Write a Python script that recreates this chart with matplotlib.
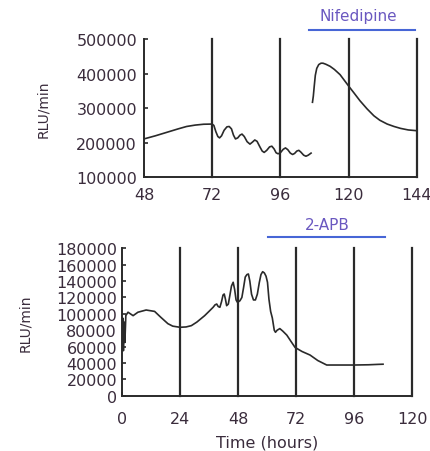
import matplotlib.pyplot as plt
import matplotlib.transforms as mtransforms

plt.rcParams['font.family'] = ['DejaVu Sans']

TXT = '#3a2c3c'
LINE = '#2a2a2a'
BLUE = '#4766d6'
LABEL_BLUE = '#6a58c0'

# Painel superior (Nifedipine)
top_t_pre = [48, 52, 56, 60, 63, 66, 69, 72, 72.6, 73.3, 74, 74.6, 75.3, 76.2, 77.2, 78, 78.8,
             79.5, 80.2, 81, 81.8, 82.5, 83.3, 84.3, 85.3, 86.2, 87, 87.8, 88.8, 89.6, 90.3, 91.2,
             92.2, 93, 93.8, 94.5, 95.2, 96, 97, 97.8, 98.6, 99.5, 100.3, 101, 101.8, 102.5, 103.2,
             104.2, 105, 105.8, 106.8]
top_v_pre = [211000, 220000, 230000, 240000, 247000, 251000, 253500, 254000, 250000, 232000, 218000,
             214000, 220000, 236000, 246000, 247000, 240000, 222000, 211000, 214000, 222000, 225000,
             218000, 203000, 196000, 202000, 208000, 204000, 188000, 176000, 172000, 178000, 188000,
             190000, 182000, 171000, 168000, 171000, 181000, 185000, 180000, 170000, 166000, 169000,
             176000, 178000, 173000, 164000, 161000, 164000, 170000]
top_t_nif = [107.3, 107.6, 107.9, 108.3, 108.8, 109.5, 110.3, 111, 112, 113.5, 115, 117, 120.2, 122,
             124, 126.5, 128.9, 131, 133.6, 136, 138.3, 141, 144]
top_v_nif = [317000, 335000, 362000, 395000, 415000, 426000, 430000, 430000, 427000, 421000, 412000,
             397000, 362000, 343000, 321500, 298000, 278000, 265000, 254000, 247000, 241500, 237000,
             234800]

# Painel inferior (2-APB)
bot_t = [0, 0.3, 0.6, 0.9, 1.2, 1.6, 2.5, 4.6, 6.6, 10, 13.5, 16, 19, 21, 24, 26.5, 28.7, 31, 34.2,
         36, 37.7, 38.5, 39.2, 39.8, 40.5, 41.2, 41.8, 42.3, 42.8, 43.3, 44, 44.6, 45.3, 46, 46.6,
         47.2, 47.8, 48.8, 49.6, 50.3, 51, 51.7, 52.3, 52.9, 53.6, 54.4, 55.2, 56, 56.8, 57.5, 58.2,
         58.9, 59.6, 60.2, 60.8, 61.5, 62.2, 63, 63.5, 64.2, 65.3, 66.5, 68.2, 70, 71.6, 74.5, 77.8,
         81, 84.7, 90, 96, 102, 106, 108]
bot_v = [60000, 95000, 55000, 90000, 65000, 98000, 102000, 97800, 102000, 104700, 103000, 96000,
         88000, 85000, 83600, 84000, 85600, 90000, 97800, 103000, 108000, 111000, 112000, 109000,
         108000, 115000, 123000, 124300, 118000, 110000, 112000, 122000, 134000, 138600, 130000,
         117000, 114000, 116000, 120000, 132000, 145000, 148000, 148700, 140000, 124000, 117000,
         117000, 124000, 138000, 148000, 151500, 150000, 146000, 138600, 118000, 103000, 95000,
         80000, 77500, 80000, 82000, 79000, 74000, 66000, 59000, 54000, 49700, 43000, 37500, 37500,
         37500, 37800, 38300, 38500]

top_xticks = [48, 72, 96, 120, 144]
top_yticks = [100000, 200000, 300000, 400000, 500000]
bot_xticks = [0, 24, 48, 72, 96, 120]
bot_yticks = list(range(0, 180001, 20000))

fig = plt.figure(figsize=(4.31, 4.52), dpi=100)
ax1 = fig.add_axes([0.334, 0.6055, 0.633, 0.306])
ax2 = fig.add_axes([0.283, 0.1223, 0.673, 0.326])


def estilo(ax, xticks, yticks, xlim, ylim):
    ax.set_xlim(*xlim)
    ax.set_ylim(*ylim)
    ax.set_xticks(xticks)
    ax.set_yticks(yticks)
    ax.set_xticklabels([str(x) for x in xticks])
    ax.set_yticklabels([str(y) for y in yticks])
    for s in ['top', 'right']:
        ax.spines[s].set_visible(False)
    for s in ['left', 'bottom']:
        ax.spines[s].set_linewidth(1.4)
        ax.spines[s].set_color(LINE)
    ax.tick_params(axis='both', direction='in', length=3, width=1.2, colors=LINE,
                   labelsize=11.5, labelcolor=TXT)
    for x in xticks[1:]:
        ax.axvline(x, color=LINE, linewidth=1.6, clip_on=False)
    ax.set_ylabel('RLU/min', fontsize=10, color=TXT)


estilo(ax1, top_xticks, top_yticks, (48, 144), (100000, 500000))
estilo(ax2, bot_xticks, bot_yticks, (0, 120), (0, 180000))
ax1.tick_params(axis='x', pad=7)
ax1.tick_params(axis='y', pad=5)
ax2.tick_params(axis='x', pad=11)
ax2.tick_params(axis='y', pad=3.5)
ax2.set_xlabel('Time (hours)', fontsize=11.5, color=TXT, labelpad=6)
ax1.yaxis.set_label_coords(-0.344, 0.5)
ax2.yaxis.set_label_coords(-0.31, 0.5)

ax1.plot(top_t_pre, top_v_pre, color=LINE, linewidth=1.2, solid_joinstyle='round')
ax1.plot(top_t_nif, top_v_nif, color=LINE, linewidth=1.2, solid_joinstyle='round', clip_on=False)
ax2.plot(bot_t, bot_v, color=LINE, linewidth=1.2, solid_joinstyle='round')

# Barras de tratamento acima dos paineis
tr1 = mtransforms.blended_transform_factory(ax1.transData, ax1.transAxes)
ax1.plot([106.2, 143.5], [1.065, 1.065], color=BLUE, linewidth=1.5, transform=tr1, clip_on=False)
ax1.text(123.5, 1.17, 'Nifedipine', transform=tr1, ha='center', va='center',
         fontsize=11, color=LABEL_BLUE)

tr2 = mtransforms.blended_transform_factory(ax2.transData, ax2.transAxes)
ax2.plot([60.4, 108.8], [1.077, 1.077], color=BLUE, linewidth=1.5, transform=tr2, clip_on=False)
ax2.text(84.8, 1.165, '2-APB', transform=tr2, ha='center', va='center',
         fontsize=11, color=LABEL_BLUE)

plt.savefig('out.png', dpi=100)
